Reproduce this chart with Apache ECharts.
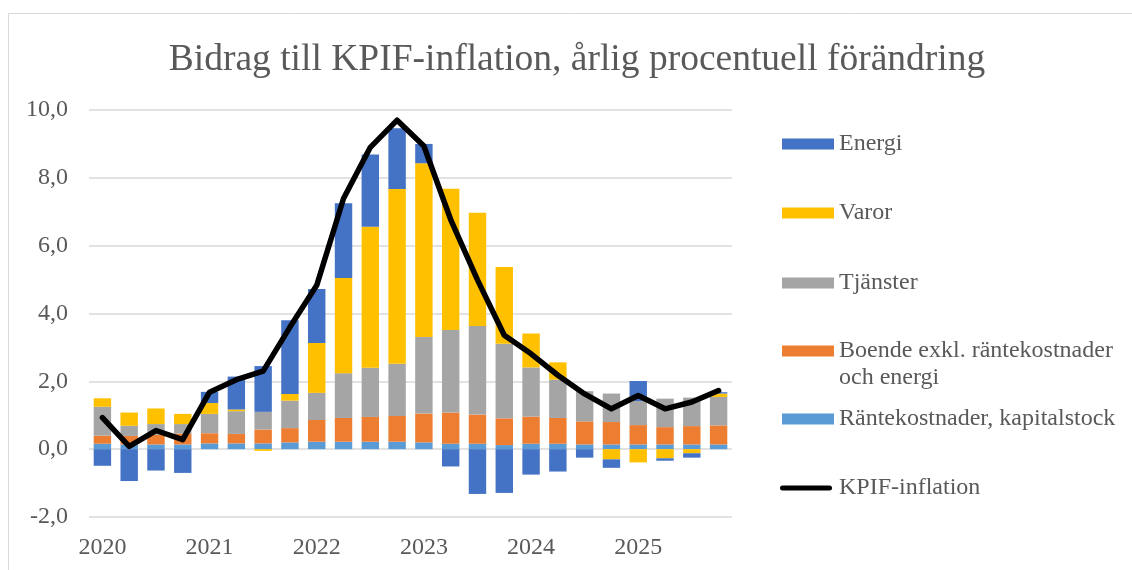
<!DOCTYPE html>
<html>
<head>
<meta charset="utf-8">
<script src="https://cdn.jsdelivr.net/npm/echarts@6/dist/echarts.min.js"></script>
<style>
  html, body { margin: 0; padding: 0; background: #fff; }
  #chart { width: 1132px; height: 570px; }
</style>
</head>
<body>
<div id="chart"></div>
<script>
// kvartal 2020K1 - 2025K4
const years = ['2020', '2021', '2022', '2023', '2024', '2025']
const quarters = []
years.forEach(y => { for (let q = 1; q <= 4; q++) quarters.push(y + 'K' + q) })

const rantekostnader = [0.16, 0.14, 0.14, 0.14, 0.17, 0.17, 0.17, 0.20, 0.22, 0.22, 0.22, 0.22, 0.20, 0.16, 0.16, 0.12, 0.16, 0.16, 0.14, 0.14, 0.14, 0.14, 0.14, 0.14]
const boende = [0.24, 0.25, 0.28, 0.32, 0.30, 0.28, 0.41, 0.42, 0.64, 0.70, 0.73, 0.76, 0.85, 0.92, 0.86, 0.79, 0.80, 0.76, 0.68, 0.66, 0.57, 0.51, 0.54, 0.56]
const tjanster = [0.85, 0.30, 0.32, 0.28, 0.57, 0.67, 0.52, 0.81, 0.80, 1.32, 1.45, 1.54, 2.26, 2.43, 2.61, 2.20, 1.45, 1.13, 0.89, 0.84, 0.71, 0.84, 0.84, 0.84]
const varor = [0.25, 0.39, 0.46, 0.30, 0.32, 0.05, -0.05, 0.20, 1.47, 2.81, 4.16, 5.15, 5.12, 4.17, 3.34, 2.26, 1.00, 0.51, 0.00, -0.30, -0.39, -0.27, -0.12, 0.10]
const energi = [-0.49, -0.94, -0.63, -0.70, 0.33, 0.97, 1.35, 2.17, 1.59, 2.20, 2.13, 1.79, 0.57, -0.51, -1.32, -1.29, -0.75, -0.66, -0.25, -0.25, 0.59, -0.07, -0.13, 0.04]
const kpif = [0.93, 0.08, 0.55, 0.28, 1.68, 2.05, 2.30, 3.60, 4.83, 7.39, 8.90, 9.70, 8.94, 6.77, 4.99, 3.36, 2.81, 2.18, 1.63, 1.19, 1.58, 1.19, 1.39, 1.73]

const serif = '"Liberation Serif", "Times New Roman", serif'
const textGray = '#595959'

const names = {
  energi: 'Energi',
  varor: 'Varor',
  tjanster: 'Tjänster',
  boende: 'Boende exkl. räntekostnader och energi',
  ranta: 'Räntekostnader, kapitalstock',
  kpif: 'KPIF-inflation'
}

// legend: one component per item so the spacing can be kept even
const legendItems = [
  { name: names.energi, center: 144 },
  { name: names.varor, center: 213 },
  { name: names.tjanster, center: 283 },
  { name: names.boende, center: 351, twoLines: true },
  { name: names.ranta, center: 419 },
  { name: names.kpif, center: 488, line: true }
]
const LH = 27
const lineIcon = 'path://M2.5,0 L49.5,0 A2.5,2.5 0 0 1 49.5,5 L2.5,5 A2.5,2.5 0 0 1 2.5,0 Z'
const legends = legendItems.map(item => ({
  data: [{ name: item.name, icon: item.line ? lineIcon : 'rect' }],
  orient: 'vertical',
  left: item.line ? 780 : 782,
  top: item.twoLines ? item.center - 1.5 * LH : item.center - LH / 2,
  padding: 0,
  itemWidth: item.line ? 56 : 52,
  itemHeight: item.line ? 5 : 11,
  itemGap: 5,
  selectedMode: false,
  // leading blank line keeps the first text line level with the icon
  formatter: item.twoLines ? () => '\nBoende exkl. räntekostnader\noch energi' : undefined,
  textStyle: {
    fontFamily: serif,
    fontSize: 24,
    color: textGray,
    lineHeight: LH
  }
}))

function barSeries(name, data, color) {
  return {
    name: name,
    type: 'bar',
    stack: 'bidrag',
    data: data,
    barCategoryGap: '35%',
    itemStyle: { color: color },
    emphasis: { disabled: true }
  }
}

const chart = echarts.init(document.getElementById('chart'))
chart.setOption({
  animation: false,
  title: {
    text: 'Bidrag till KPIF-inflation, årlig procentuell förändring',
    left: 572,
    top: 36,
    textAlign: 'center',
    textStyle: { fontFamily: serif, fontSize: 37.5, fontWeight: 'normal', color: textGray }
  },
  legend: legends,
  grid: { left: 89, right: 400, top: 110, bottom: 53 },
  xAxis: {
    type: 'category',
    data: quarters,
    axisLine: { show: false },
    axisTick: { show: false },
    axisLabel: {
      interval: 3,
      margin: 19,
      fontFamily: serif,
      fontSize: 24,
      color: textGray,
      formatter: v => v.slice(0, 4)
    }
  },
  yAxis: {
    type: 'value',
    min: -2,
    max: 10,
    interval: 2,
    axisLine: { show: false },
    axisTick: { show: false },
    axisLabel: {
      margin: 21,
      fontFamily: serif,
      fontSize: 24,
      color: textGray,
      formatter: v => v.toFixed(1).replace('.', ',')
    },
    splitLine: { lineStyle: { color: '#d9d9d9', width: 1.5 } }
  },
  graphic: [{
    type: 'rect',
    shape: { x: 8.5, y: 13.5, width: 1400, height: 800 },
    style: { fill: 'none', stroke: '#d9d9d9', lineWidth: 1 },
    silent: true
  }],
  series: [
    barSeries(names.ranta, rantekostnader, '#5B9BD5'),
    barSeries(names.boende, boende, '#ED7D31'),
    barSeries(names.tjanster, tjanster, '#A5A5A5'),
    barSeries(names.varor, varor, '#FFC000'),
    barSeries(names.energi, energi, '#4472C4'),
    {
      name: names.kpif,
      type: 'line',
      data: kpif,
      symbol: 'none',
      lineStyle: { color: '#000', width: 5.5, join: 'round', cap: 'round' },
      itemStyle: { color: '#000' },
      emphasis: { disabled: true },
      z: 5
    }
  ]
})
</script>
</body>
</html>
